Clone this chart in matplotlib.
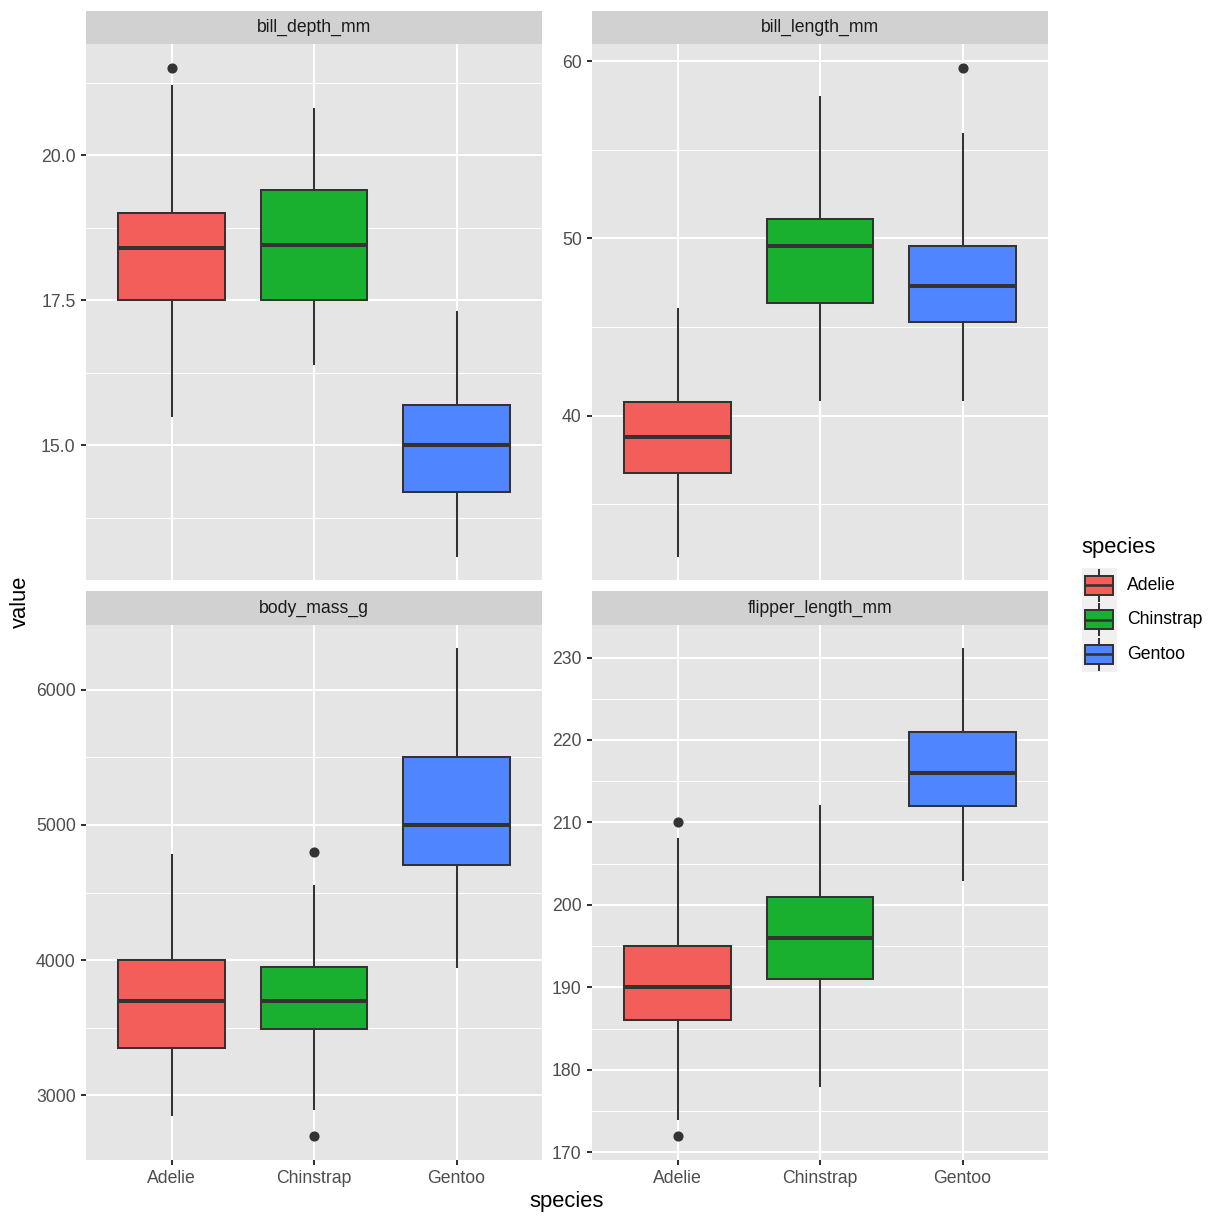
import matplotlib.pyplot as plt
from matplotlib.patches import Rectangle
from matplotlib.ticker import MultipleLocator, FormatStrFormatter

plt.rcParams['font.family'] = ['Liberation Sans', 'DejaVu Sans']

# categories / facets
species = ["Adelie", "Chinstrap", "Gentoo"]
panel_names = ["bill_depth_mm", "bill_length_mm", "body_mass_g", "flipper_length_mm"]
fills = ["#F35E5A", "#1AB02F", "#4F86FF"]

# box statistics: lower whisker, q1, median, q3, upper whisker, outliers
bill_depth_low = [15.5, 16.4, 13.1]
bill_depth_q1 = [17.5, 17.5, 14.2]
bill_depth_med = [18.4, 18.45, 15.0]
bill_depth_q3 = [19.0, 19.4, 15.7]
bill_depth_high = [21.2, 20.8, 17.3]
bill_depth_out = [[21.5], [], []]

bill_length_low = [32.1, 40.9, 40.9]
bill_length_q1 = [36.75, 46.35, 45.3]
bill_length_med = [38.8, 49.55, 47.3]
bill_length_q3 = [40.75, 51.075, 49.55]
bill_length_high = [46.0, 58.0, 55.9]
bill_length_out = [[], [], [59.6]]

body_mass_low = [2850, 2900, 3950]
body_mass_q1 = [3350, 3487.5, 4700]
body_mass_med = [3700, 3700, 5000]
body_mass_q3 = [4000, 3950, 5500]
body_mass_high = [4775, 4550, 6300]
body_mass_out = [[], [2700, 4800], []]

flipper_low = [174, 178, 203]
flipper_q1 = [186, 191, 212]
flipper_med = [190, 196, 216]
flipper_q3 = [195, 201, 221]
flipper_high = [208, 212, 231]
flipper_out = [[172, 210], [], []]

panel_data = [
    (bill_depth_low, bill_depth_q1, bill_depth_med, bill_depth_q3, bill_depth_high, bill_depth_out),
    (bill_length_low, bill_length_q1, bill_length_med, bill_length_q3, bill_length_high, bill_length_out),
    (body_mass_low, body_mass_q1, body_mass_med, body_mass_q3, body_mass_high, body_mass_out),
    (flipper_low, flipper_q1, flipper_med, flipper_q3, flipper_high, flipper_out),
]
major_steps = [2.5, 10, 1000, 10]
tick_formats = ["%.1f", "%d", "%d", "%d"]

W = H = 1224
LINE = "#333333"
LW = 1.45


def frect(x0, y0, x1, y1):
    return [x0 / W, 1 - y1 / H, (x1 - x0) / W, (y1 - y0) / H]


panel_px = [(86, 44, 542, 580), (592, 44, 1048, 580),
            (86, 625, 542, 1160), (592, 625, 1048, 1160)]
strip_px = [(86, 11, 542, 44), (592, 11, 1048, 44),
            (86, 591, 542, 625), (592, 591, 1048, 625)]

fig = plt.figure(figsize=(W / 100, H / 100), dpi=100)
fig.patch.set_facecolor("white")

for i, name in enumerate(panel_names):
    low, q1, med, q3, high, out = panel_data[i]
    ax = fig.add_axes(frect(*panel_px[i]))
    ax.set_facecolor("#E5E5E5")
    for s in ax.spines.values():
        s.set_visible(False)

    stats = []
    for j in range(3):
        stats.append(dict(whislo=low[j], q1=q1[j], med=med[j], q3=q3[j],
                          whishi=high[j], fliers=out[j], label=species[j]))
    res = ax.bxp(stats, positions=[1, 2, 3], widths=0.75, patch_artist=True,
                 showcaps=False, zorder=3,
                 boxprops=dict(edgecolor=LINE, linewidth=LW),
                 medianprops=dict(color=LINE, linewidth=2.9, solid_capstyle="butt"),
                 whiskerprops=dict(color=LINE, linewidth=LW),
                 flierprops=dict(marker="o", markerfacecolor=LINE,
                                 markeredgecolor=LINE, markersize=6.3))
    for b, c in zip(res["boxes"], fills):
        b.set_facecolor(c)

    lo_all = min(low + [v for o in out for v in o])
    hi_all = max(high + [v for o in out for v in o])
    pad = (hi_all - lo_all) * 0.05
    ax.set_ylim(lo_all - pad, hi_all + pad)
    ax.set_xlim(0.4, 3.6)

    ax.yaxis.set_major_locator(MultipleLocator(major_steps[i]))
    ax.yaxis.set_minor_locator(MultipleLocator(major_steps[i] / 2))
    ax.yaxis.set_major_formatter(FormatStrFormatter(tick_formats[i]))
    ax.set_xticks([1, 2, 3])
    ax.grid(which="major", color="white", linewidth=LW, zorder=0)
    ax.grid(which="minor", axis="y", color="white", linewidth=0.75, zorder=0)
    ax.set_axisbelow(True)
    ax.tick_params(axis="y", which="major", length=3.9, width=LW, color=LINE,
                   labelcolor="#4D4D4D", labelsize=12.7, pad=3.5)
    ax.tick_params(axis="y", which="minor", length=0)
    if i >= 2:
        ax.set_xticklabels(species)
        ax.tick_params(axis="x", length=3.9, width=LW, color=LINE,
                       labelcolor="#4D4D4D", labelsize=12.7, pad=3.5)
    else:
        ax.set_xticklabels([])
        ax.tick_params(axis="x", length=0)

    sax = fig.add_axes(frect(*strip_px[i]))
    sax.set_facecolor("#D1D1D1")
    sax.set_xticks([])
    sax.set_yticks([])
    for s in sax.spines.values():
        s.set_visible(False)
    sax.text(0.5, 0.5, name, ha="center", va="center", fontsize=12.7,
             color="#1A1A1A", transform=sax.transAxes)

# axis titles
fig.text(567 / W, 1 - 1202 / H, "species", ha="center", va="center", fontsize=15.8)
fig.text(20 / W, 1 - 602 / H, "value", ha="center", va="center", fontsize=15.8,
         rotation=90)

# legend
fig.text(1081 / W, 1 - 547 / H, "species", ha="left", va="center", fontsize=15.8)
key_h = 34.5
for j, sp in enumerate(species):
    y0 = 568 + j * key_h
    kax = fig.add_axes(frect(1082, y0, 1116.5, y0 + key_h))
    kax.set_xlim(0, 1)
    kax.set_ylim(0, 1)
    kax.set_facecolor("#F0F0F0")
    kax.set_xticks([])
    kax.set_yticks([])
    for s in kax.spines.values():
        s.set_visible(False)
    kax.plot([0.5, 0.5], [0.05, 0.95], color=LINE, linewidth=LW, zorder=1)
    kax.add_patch(Rectangle((0.1, 0.22), 0.8, 0.56, facecolor=fills[j],
                            edgecolor=LINE, linewidth=LW, zorder=2))
    kax.plot([0.1, 0.9], [0.5, 0.5], color=LINE, linewidth=LW * 1.3,
             solid_capstyle="butt", zorder=3)
    fig.text(1127 / W, 1 - (y0 + key_h / 2) / H, sp, ha="left", va="center",
             fontsize=12.7)

fig.savefig("out.png", dpi=100)
